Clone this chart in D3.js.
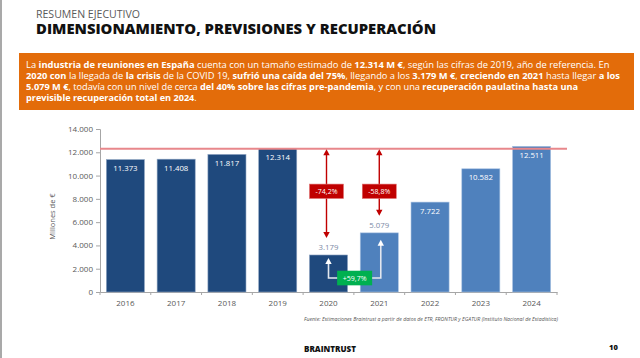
<!DOCTYPE html>
<html>
<head>
<meta charset="utf-8">
<script src="https://cdn.jsdelivr.net/npm/d3@7"></script>
<style>
  html, body { margin: 0; padding: 0; background: #fff; }
  svg { display: block; font-family: "Open Sans", "DejaVu Sans", sans-serif; }
</style>
</head>
<body>
<svg id="chart" width="640" height="358"></svg>
<script>
// Data
const years = ["2016", "2017", "2018", "2019", "2020", "2021", "2022", "2023", "2024"];
const values = [11373, 11408, 11817, 12314, 3179, 5079, 7722, 10582, 12511];
const yTicks = [0, 2000, 4000, 6000, 8000, 10000, 12000, 14000];
const referenceValue = 12314;          // 2019 pre-pandemic level
const darkYears = ["2016", "2017", "2018", "2019", "2020"];
const dropYears = ["2020", "2021"];
const dropLabels = ["-74,2%", "-58,8%"];
const growthFrom = "2020", growthTo = "2021", growthLabel = "+59,7%";

// Intro paragraph: [text, bold]
const introLines = [
    [["La ", 0], ["industria de reuniones en España", 1], [" cuenta con un tamaño estimado de ", 0], ["12.314 M €", 1], [", según las cifras de 2019, año de referencia. En", 0]],
    [["2020 con", 1], [" la llegada de ", 0], ["la crisis", 1], [" de la COVID 19, ", 0], ["sufrió una caída del 75%", 1], [", llegando a los ", 0], ["3.179 M €", 1], [", ", 0], ["creciendo en 2021", 1], [" hasta llegar ", 0], ["a los", 1]],
    [["5.079 M €", 1], [", todavía con un nivel de cerca ", 0], ["del 40% sobre las cifras pre-pandemia", 1], [", y con una ", 0], ["recuperación paulatina hasta una", 1]],
    [["previsible recuperación total en 2024", 1], [".", 0]]
];
const introWidths = [584, 593, 552, 171];

const svg = d3.select("#chart");

const esLocale = d3.formatLocale({ decimal: ",", thousands: ".", grouping: [3], currency: ["", "€"] });
const fmt = esLocale.format(",d");

// Scale a text's font size so it spans the wanted width (no glyph squeezing).
function fitWidth(sel, width) {
    const node = sel.node();
    const fs = parseFloat(sel.attr("font-size"));
    const w = node.getComputedTextLength();
    if (w > 0) sel.attr("font-size", (fs * width / w).toFixed(2));
    return sel;
}

// Page frame: thin grey line on the left edge
svg.append("line")
    .attr("x1", 1).attr("x2", 1).attr("y1", 0).attr("y2", 358)
    .attr("stroke", "#8c8c8c").attr("stroke-width", 1.5);

// Header
fitWidth(svg.append("text")
    .attr("x", 36).attr("y", 17.5)
    .attr("font-size", 8.2).attr("fill", "#595959")
    .text("RESUMEN EJECUTIVO"), 104);
fitWidth(svg.append("text")
    .attr("x", 36).attr("y", 33.5)
    .attr("font-size", 13).attr("font-weight", 800).attr("fill", "#111")
    .text("DIMENSIONAMIENTO, PREVISIONES Y RECUPERACIÓN"), 400);

// Orange summary box
svg.append("rect")
    .attr("x", 19).attr("y", 53).attr("width", 615).attr("height", 57)
    .attr("fill", "#e36c0a");

introLines.forEach((line, i) => {
    const t = svg.append("text")
        .attr("x", 26).attr("y", 67.5 + i * 11.2)
        .attr("font-size", 9.2).attr("fill", "#fff")
        .attr("xml:space", "preserve");
    line.forEach(([s, b]) => {
        t.append("tspan").attr("font-weight", b ? 700 : 400).text(s);
    });
    fitWidth(t, introWidths[i]);
});

// Chart scales
const x = d3.scaleBand()
    .domain(years)
    .range([100, 557])
    .paddingInner(0.25)
    .paddingOuter(0.125);

const y = d3.scaleLinear()
    .domain([0, 14000])
    .range([292, 129]);

const axisColor = "#a6a6a6";
const labelColor = "#595959";

// Y axis
svg.append("g")
    .attr("transform", "translate(100,0)")
    .call(d3.axisLeft(y).tickValues(yTicks).tickSize(4).tickPadding(3).tickFormat(fmt))
    .call(g => g.select(".domain").attr("stroke", axisColor))
    .call(g => g.selectAll(".tick line").attr("stroke", axisColor))
    .call(g => g.selectAll(".tick text")
        .attr("fill", labelColor)
        .attr("font-size", 8)
        .attr("font-family", "'Open Sans', sans-serif"));

svg.append("text")
    .attr("transform", `translate(55,${(y(0) + y(14000)) / 2 + 6}) rotate(-90)`)
    .attr("text-anchor", "middle")
    .attr("font-size", 7.5).attr("fill", labelColor)
    .text("Millones de €");

// X axis
svg.append("g")
    .attr("transform", `translate(0,${y(0)})`)
    .call(d3.axisBottom(x).tickSize(0).tickPadding(8).tickSizeOuter(0))
    .call(g => g.select(".domain").attr("stroke", axisColor))
    .call(g => g.selectAll(".tick text")
        .attr("fill", labelColor)
        .attr("font-size", 8)
        .attr("font-family", "'Open Sans', sans-serif"));

// Ticks between categories
const step = x.step();
svg.append("g")
    .selectAll("line")
    .data(d3.range(years.length + 1))
    .join("line")
        .attr("x1", i => x.range()[0] + i * step)
        .attr("x2", i => x.range()[0] + i * step)
        .attr("y1", y(0))
        .attr("y2", y(0) + 3)
        .attr("stroke", axisColor);

// Bars
const data = years.map((yr, i) => ({ year: yr, value: values[i] }));

svg.append("g")
    .selectAll("rect")
    .data(data)
    .join("rect")
        .attr("x", d => x(d.year))
        .attr("y", d => y(d.value))
        .attr("width", x.bandwidth())
        .attr("height", d => y(0) - y(d.value))
        .attr("fill", d => darkYears.includes(d.year) ? "#1f497d" : "#4f81bd")
        .attr("stroke", d => darkYears.includes(d.year) ? "#8fa5c2" : "#a9c2e2")
        .attr("stroke-width", 0.6);

// Value labels
svg.append("g")
    .selectAll("text")
    .data(data)
    .join("text")
        .attr("x", d => x(d.year) + x.bandwidth() / 2)
        .attr("y", d => dropYears.includes(d.year) ? y(d.value) - 5 : y(d.value) + 11.5)
        .attr("text-anchor", "middle")
        .attr("font-size", 7.8)
        .attr("fill", d => dropYears.includes(d.year) ? "#7b8aa6" : "#fff")
        .text(d => fmt(d.value));

// Reference line at the 2019 level
svg.append("line")
    .attr("x1", 100).attr("x2", 567)
    .attr("y1", y(referenceValue)).attr("y2", y(referenceValue))
    .attr("stroke", "#e8878b").attr("stroke-width", 2);

// Arrowhead helper
function arrowHead(g, cx, cy, dir, color) {
    const w = 3.2, h = 6;
    const pts = dir === "up"
        ? [[cx, cy], [cx - w, cy + h], [cx + w, cy + h]]
        : [[cx, cy], [cx - w, cy - h], [cx + w, cy - h]];
    g.append("path").attr("d", d3.line()(pts) + "Z").attr("fill", color);
}

// Red drop arrows and labels
const ann = svg.append("g");
dropYears.forEach((yr, i) => {
    const v = values[years.indexOf(yr)];
    const cx = x(yr) + x.bandwidth() / 2 - (i === 0 ? 2 : 0);
    const top = y(referenceValue) + 0.5;
    const bottom = y(v) - 17;
    ann.append("line")
        .attr("x1", cx).attr("x2", cx)
        .attr("y1", top + 4).attr("y2", bottom - 4)
        .attr("stroke", "#c00000").attr("stroke-width", 1.4);
    arrowHead(ann, cx, top, "up", "#c00000");
    arrowHead(ann, cx, bottom, "down", "#c00000");

    const by = y(8650);
    ann.append("rect")
        .attr("x", cx - 17).attr("y", by - 7.2)
        .attr("width", 34).attr("height", 14.4)
        .attr("fill", "#c00000")
        .attr("stroke", "#e07070").attr("stroke-width", 0.6);
    ann.append("text")
        .attr("x", cx).attr("y", by + 2.5)
        .attr("text-anchor", "middle")
        .attr("font-size", 7).attr("fill", "#fff")
        .text(dropLabels[i]);
});

// Growth connector 2020 -> 2021
const fx = x(growthFrom) + x.bandwidth() / 2;
const tx = x(growthTo) + x.bandwidth() / 2 + 1.5;
const fTip = y(values[years.indexOf(growthFrom)]) + 3;
const tTip = y(values[years.indexOf(growthTo)]) + 7;
const baseY = y(1200);
ann.append("path")
    .attr("d", d3.line()([[fx, fTip + 5], [fx, baseY], [tx, baseY], [tx, tTip + 5]]))
    .attr("fill", "none")
    .attr("stroke", "#e3e7ee").attr("stroke-width", 1.6);
arrowHead(ann, fx, fTip, "up", "#fff");
arrowHead(ann, tx, tTip, "up", "#fff");

const gx = (fx + tx) / 2;
ann.append("rect")
    .attr("x", gx - 17.5).attr("y", baseY - 7.3)
    .attr("width", 35).attr("height", 14.6)
    .attr("fill", "#00b050");
ann.append("text")
    .attr("x", gx).attr("y", baseY + 2.5)
    .attr("text-anchor", "middle")
    .attr("font-size", 7).attr("fill", "#fff")
    .text(growthLabel);

// Source note
fitWidth(svg.append("text")
    .attr("x", 558).attr("y", 320.5)
    .attr("text-anchor", "end")
    .attr("font-size", 4.6).attr("font-style", "italic").attr("fill", "#555")
    .text("Fuente: Estimaciones Braintrust a partir de datos de ETR, FRONTUR y EGATUR  (Instituto Nacional de Estadística)"), 254);

// Footer
fitWidth(svg.append("text")
    .attr("x", 304).attr("y", 352)
    .attr("font-size", 6.5).attr("font-weight", 800).attr("fill", "#111")
    .text("BRAINTRUST"), 52);
svg.append("text")
    .attr("x", 609).attr("y", 350)
    .attr("font-size", 7.5).attr("font-weight", 800).attr("fill", "#111")
    .text("10");
</script>
</body>
</html>
